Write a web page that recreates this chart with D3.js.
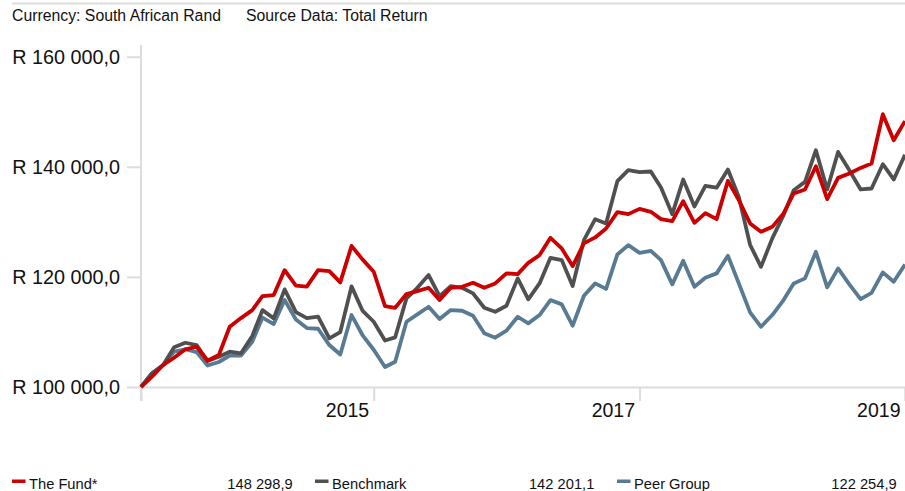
<!DOCTYPE html>
<html>
<head>
<meta charset="utf-8">
<script src="https://cdn.jsdelivr.net/npm/d3@7"></script>
<style>
  body { margin: 0; background: #fff; }
  svg { display: block; font-family: "Liberation Sans", Arial, sans-serif; }
</style>
</head>
<body>
<svg id="chart" width="905" height="491"></svg>
<script>
// monthly points, Apr 2013 - Jan 2019
var months = [
  "2013-04","2013-05","2013-06","2013-07","2013-08","2013-09","2013-10","2013-11","2013-12",
  "2014-01","2014-02","2014-03","2014-04","2014-05","2014-06","2014-07","2014-08","2014-09","2014-10","2014-11","2014-12",
  "2015-01","2015-02","2015-03","2015-04","2015-05","2015-06","2015-07","2015-08","2015-09","2015-10","2015-11","2015-12",
  "2016-01","2016-02","2016-03","2016-04","2016-05","2016-06","2016-07","2016-08","2016-09","2016-10","2016-11","2016-12",
  "2017-01","2017-02","2017-03","2017-04","2017-05","2017-06","2017-07","2017-08","2017-09","2017-10","2017-11","2017-12",
  "2018-01","2018-02","2018-03","2018-04","2018-05","2018-06","2018-07","2018-08","2018-09","2018-10","2018-11","2018-12",
  "2019-01"
];

var fund = [
  100000,101870,103990,105320,106840,107310,104770,105810,110940,
  112520,113970,116520,116700,121230,118420,118240,121230,121050,119000,125640,123180,
  120930,114700,114390,116880,117420,118020,115790,118020,118200,118930,118020,118820,
  120640,120510,122560,123960,127100,125170,121960,126080,127170,128800,131760,131400,
  132360,131820,130490,130130,133760,129820,131580,130490,137440,133940,129710,128190,
  129090,131520,135150,135880,140110,134120,137990,138780,139800,140600,149550,144830,
  148298.9
];

var benchmark = [
  100000,102490,103990,107210,108040,107620,104720,105500,106410,
  106120,109260,113970,112470,117730,113610,112520,112800,108840,109980,118280,113880,
  111850,108440,109020,116100,118020,120330,116520,118330,118020,117010,114390,113670,
  114760,119730,115920,118820,123470,123050,118330,126680,130490,129710,137390,139380,
  139020,139150,136240,131400,137700,132800,136530,136210,139510,134540,125830,121830,
  126990,131220,135750,137260,143010,135880,142700,139380,135880,136060,140470,137700,
  142201.1
];

var peers = [
  100000,102410,103990,106410,106860,106350,103900,104540,105720,
  105720,108220,112610,111430,115790,112250,110710,110580,107620,105900,113070,109440,
  106770,103630,104590,111850,113190,114570,112340,113970,113850,112940,109750,108950,
  110220,112760,111560,113070,115790,115010,111130,116570,118820,117820,124080,125770,
  124370,124740,123050,118640,122920,118200,119840,120640,123830,118820,113560,110940,
  113070,115790,118820,119730,124560,118100,121540,118640,115970,117110,120820,119110,
  122254.9
];

var seriesNames = ["The Fund*", "Benchmark", "Peer Group"];
var seriesColors = ["#cc0000", "#505050", "#587a93"];
var yTicks = [100000, 120000, 140000, 160000];
var xTicks = ["2015-01", "2017-01", "2019-01"];
var headerTexts = ["Currency: South African Rand", "Source Data: Total Return"];

var parse = d3.timeParse("%Y-%m");
var dates = months.map(parse);
var allSeries = [fund, benchmark, peers];

var rand = d3.formatLocale({ decimal: ",", thousands: " ", grouping: [3], currency: ["R ", ""] });
var yFmt = rand.format("$,.1f");
var vFmt = rand.format(",.1f");

var svg = d3.select("#chart");
var plotLeft = 141, plotRight = 905, plotTop = 56.7, plotBottom = 387;

var x = d3.scaleTime().domain(d3.extent(dates)).range([plotLeft, plotRight]);
var y = d3.scaleLinear().domain([100000, 160000]).range([plotBottom, plotTop]);

// header
svg.append("line")
  .attr("x1", 12).attr("x2", 905).attr("y1", 3.5).attr("y2", 3.5)
  .attr("stroke", "#dcdcdc").attr("stroke-width", 2);
svg.selectAll("text.head")
  .data(headerTexts)
  .enter().append("text")
  .attr("class", "head")
  .attr("x", function(d, i) { return i == 0 ? 12 : 246; })
  .attr("y", 21)
  .attr("font-size", "15.8px")
  .attr("fill", "#111")
  .text(function(d) { return d; });

// y axis
var yAxis = svg.append("g")
  .attr("transform", "translate(" + plotLeft + ",0)")
  .call(d3.axisLeft(y).tickValues(yTicks).tickSize(14).tickPadding(7).tickFormat(yFmt));
yAxis.select(".domain").remove();
yAxis.selectAll(".tick line").attr("stroke", "#dcdcdc").attr("stroke-width", 2);
yAxis.selectAll(".tick text").attr("font-size", "19.8px").attr("fill", "#111")
  .attr("font-family", "Liberation Sans, Arial, sans-serif");

// vertical axis line
svg.append("line")
  .attr("x1", plotLeft).attr("x2", plotLeft).attr("y1", 45).attr("y2", 401)
  .attr("stroke", "#dcdcdc").attr("stroke-width", 2);

// x axis
var xAxis = svg.append("g")
  .attr("transform", "translate(0," + plotBottom + ")")
  .call(d3.axisBottom(x).tickValues(xTicks.map(parse)).tickSize(14).tickFormat(d3.timeFormat("%Y")));
xAxis.select(".domain").attr("stroke", "#dcdcdc").attr("stroke-width", 2);
xAxis.selectAll(".tick line").attr("stroke", "#dcdcdc").attr("stroke-width", 2);
xAxis.selectAll(".tick text")
  .attr("font-size", "19.5px").attr("fill", "#111")
  .attr("font-family", "Liberation Sans, Arial, sans-serif")
  .attr("text-anchor", "end")
  .attr("x", -5).attr("y", 30).attr("dy", 0);

// lines, peer first so the fund sits on top
var line = d3.line()
  .x(function(d, i) { return x(dates[i]); })
  .y(function(d) { return y(d); });

[2, 1, 0].forEach(function(k) {
  svg.append("path")
    .datum(allSeries[k])
    .attr("d", line)
    .attr("fill", "none")
    .attr("stroke", seriesColors[k])
    .attr("stroke-width", 3.8)
    .attr("stroke-linejoin", "round");
});

// legend
var legendX = [12, 315, 617];
var legendValEnd = [292.7, 594.3, 896.7];
var lg = svg.selectAll("g.legend")
  .data(seriesNames)
  .enter().append("g")
  .attr("class", "legend");
lg.append("rect")
  .attr("x", function(d, i) { return legendX[i]; })
  .attr("y", 479.5).attr("width", 13.5).attr("height", 3.5)
  .attr("fill", function(d, i) { return seriesColors[i]; });
lg.append("text")
  .attr("x", function(d, i) { return legendX[i] + 17; })
  .attr("y", 488.5)
  .attr("font-size", "14.7px").attr("fill", "#111")
  .text(function(d) { return d; });
lg.append("text")
  .attr("x", function(d, i) { return legendValEnd[i]; })
  .attr("y", 488.5)
  .attr("text-anchor", "end")
  .attr("font-size", "14.7px").attr("fill", "#111")
  .text(function(d, i) { return vFmt(allSeries[i][allSeries[i].length - 1]); });
</script>
</body>
</html>
